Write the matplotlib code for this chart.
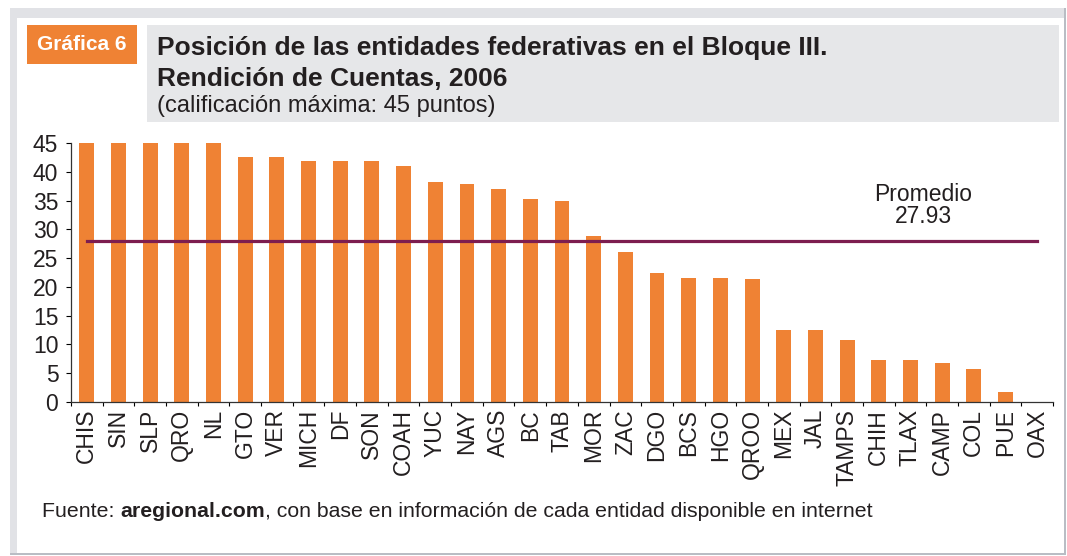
import matplotlib
matplotlib.use('Agg')
import matplotlib.pyplot as plt
from matplotlib.patches import Rectangle

plt.rcParams['font.family'] = ['Liberation Sans', 'DejaVu Sans']

# datos
entidades = ['CHIS', 'SIN', 'SLP', 'QRO', 'NL', 'GTO', 'VER', 'MICH', 'DF', 'SON',
             'COAH', 'YUC', 'NAY', 'AGS', 'BC', 'TAB', 'MOR', 'ZAC', 'DGO', 'BCS',
             'HGO', 'QROO', 'MEX', 'JAL', 'TAMPS', 'CHIH', 'TLAX', 'CAMP', 'COL',
             'PUE', 'OAX']
puntos = [45, 45, 45, 45, 45, 42.6, 42.6, 41.8, 41.8, 41.8,
          41.05, 38.3, 37.9, 37.05, 35.3, 34.95, 28.9, 26.1, 22.4, 21.6,
          21.6, 21.4, 12.5, 12.5, 10.8, 7.3, 7.3, 6.8, 5.7,
          1.7, 0]
promedio = 27.93
yticks = list(range(0, 50, 5))

naranja = '#ef8234'
morado = '#7d1d4f'
texto = '#231f20'

W, H = 1067, 556
fig = plt.figure(figsize=(W / 100, H / 100), dpi=100)


def px(x, y):
    # pixeles (origen arriba-izquierda) -> fraccion de figura
    return x / W, 1 - y / H


def caja(x0, y0, x1, y1, color):
    fx, fy = px(x0, y1)
    fig.patches.append(Rectangle((fx, fy), (x1 - x0) / W, (y1 - y0) / H,
                                 transform=fig.transFigure, color=color,
                                 zorder=-5, lw=0))


### Marco
caja(10, 8, 1066, 555, '#b9bdc4')
caja(10, 8, 1064, 553, '#e1e2e6')
caja(17, 18, 1064, 553, 'white')
caja(27, 25, 137, 64, naranja)
caja(147, 25, 1059, 122, '#e6e7e9')

fig.text(*px(82, 45), 'Gráfica 6', color='white', fontsize=15, fontweight='bold',
         ha='center', va='center')
fig.text(*px(157, 55), 'Posición de las entidades federativas en el Bloque III.',
         fontsize=19, fontweight='bold', color=texto, va='baseline')
fig.text(*px(157, 86), 'Rendición de Cuentas, 2006',
         fontsize=19, fontweight='bold', color=texto, va='baseline')
fig.text(*px(157, 112), '(calificación máxima: 45 puntos)',
         fontsize=17, color=texto, va='baseline')

### Grafica
l, r, b, t = 71, 1053, 402, 143
ax = fig.add_axes([l / W, 1 - b / H, (r - l) / W, (b - t) / H])
ax.patch.set_alpha(0)
x = range(len(entidades))
ax.bar(x, puntos, width=0.47, color=naranja, zorder=2)
ax.plot([0, len(entidades) - 1], [promedio, promedio], color=morado, lw=2.3, zorder=3)
ax.text(26.4, 30.3, 'Promedio\n%.2f' % promedio, ha='center', va='bottom',
        fontsize=16.5, color=texto, linespacing=0.95)

ax.set_xlim(-0.5, len(entidades) - 0.5)
ax.set_ylim(0, 45)
ax.set_yticks(yticks)
ax.set_yticklabels([str(v) for v in yticks], fontsize=16.5, color=texto)
ax.set_xticks([i + 0.5 for i in range(-1, len(entidades))], minor=False)
ax.set_xticklabels([])
ax.set_xticks(list(x), minor=True)
ax.set_xticklabels(entidades, minor=True, rotation=90, fontsize=16.5, color=texto,
                   va='top', ha='center')
ax.tick_params(axis='x', which='major', length=3, width=0.8, direction='out')
ax.tick_params(axis='x', which='minor', length=0, pad=5)
ax.tick_params(axis='y', length=3.6, width=0.8, pad=5.5)
for s in ['top', 'right']:
    ax.spines[s].set_visible(False)
for s in ['left', 'bottom']:
    ax.spines[s].set_linewidth(0.9)
    ax.spines[s].set_color('#333333')

### Fuente
fig.canvas.draw()
rend = fig.canvas.get_renderer()
xx, yy = px(42, 517)
partes = [('Fuente: ', 'normal'), ('aregional.com', 'bold'),
          (', con base en información de cada entidad disponible en internet', 'normal')]
for s, w in partes:
    tt = fig.text(xx, yy, s, fontsize=15.3, fontweight=w,
                  color=texto, va='baseline')
    bb = tt.get_window_extent(rend)
    xx = xx + bb.width / W

fig.savefig('out.png', dpi=100)
